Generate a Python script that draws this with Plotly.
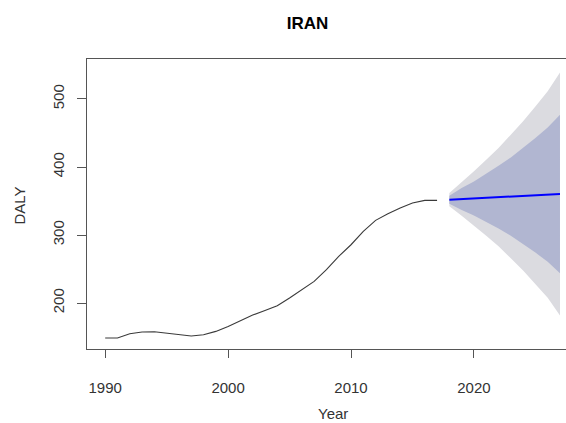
import plotly.graph_objects as go

# Historical series
hist_years = list(range(1990, 2018))
hist_daly = [148.5, 148.5, 154.8, 157.3, 157.8, 155.9, 152.9, 151.5, 153.4, 158.3,
             165.6, 174.0, 182.3, 189.1, 196.0, 207.3, 219.6, 231.8, 249.0, 268.6,
             285.7, 305.3, 321.5, 331.3, 339.7, 347.0, 350.9, 350.9]

# Forecast
fc_years = list(range(2018, 2028))
fc_mean = [352.0, 352.9, 353.8, 354.8, 355.7, 356.6, 357.5, 358.4, 359.4, 360.3]
hi80 = [357.8, 369.1, 378.8, 390.1, 401.9, 414.1, 427.9, 442.6, 458.2, 476.9]
lo80 = [346.1, 336.7, 328.7, 319.5, 309.5, 299.1, 287.1, 274.2, 260.6, 243.7]
hi95 = [361.8, 377.4, 393.6, 410.7, 427.9, 447.5, 467.1, 489.1, 511.2, 539.1]
lo95 = [342.2, 328.4, 313.9, 298.9, 283.5, 265.7, 247.9, 227.7, 207.6, 181.5]

x_ticks = [1990, 2000, 2010, 2020]
y_ticks = [200, 300, 400, 500]

W, H = 566, 423
L, R, T, B = 87, 0, 59, 74
PW, PH = W - L - R, H - T - B


def px_to_paper(px, py):
    return (px - L) / PW, (H - B - py) / PH


fig = go.Figure()
fig.add_trace(go.Scatter(
    x=fc_years + fc_years[::-1], y=hi95 + lo95[::-1],
    fill="toself", fillcolor="#DBDBE0", line=dict(width=0),
    mode="lines", hoverinfo="skip", showlegend=False))
fig.add_trace(go.Scatter(
    x=fc_years + fc_years[::-1], y=hi80 + lo80[::-1],
    fill="toself", fillcolor="#B1B6D1", line=dict(width=0),
    mode="lines", hoverinfo="skip", showlegend=False))
fig.add_trace(go.Scatter(
    x=hist_years, y=hist_daly, mode="lines",
    line=dict(color="#3a3a3a", width=1.1), showlegend=False))
fig.add_trace(go.Scatter(
    x=fc_years, y=fc_mean, mode="lines",
    line=dict(color="#0000FF", width=2), showlegend=False))

font_family = "Liberation Sans, Arial, sans-serif"
yx, yy = px_to_paper(332.5, 414)
dx, dy = px_to_paper(18.5, 206)
fig.update_layout(
    width=W, height=H,
    margin=dict(l=L, r=R, t=T, b=B, autoexpand=False),
    paper_bgcolor="white", plot_bgcolor="white",
    font=dict(family=font_family, color="#333333", size=15),
    title=dict(text="<b>IRAN</b>", x=307.5 / W, xanchor="center",
               y=1 - 23 / H, yanchor="middle",
               font=dict(size=17, color="#000000", family=font_family)),
    xaxis=dict(range=[1988.52, 2027.49], tickvals=x_ticks, automargin=False,
               showgrid=False, zeroline=False,
               showline=True, linecolor="#555555", linewidth=1, mirror=True,
               ticks="outside", ticklen=8, tickcolor="#555555",
               ticklabelstandoff=17, tickfont=dict(size=15)),
    yaxis=dict(range=[132.4, 558.8], tickvals=y_ticks, automargin=False,
               showgrid=False, zeroline=False,
               showline=True, linecolor="#555555", linewidth=1, mirror=False,
               ticks="outside", ticklen=9, tickcolor="#555555",
               tickangle=-90, ticklabelstandoff=7, tickfont=dict(size=15)),
    annotations=[
        dict(text="Year", x=yx, y=yy, xref="paper", yref="paper",
             xanchor="center", yanchor="middle", showarrow=False,
             font=dict(size=15, color="#333333")),
        dict(text="DALY", x=dx, y=dy, xref="paper", yref="paper",
             xanchor="center", yanchor="middle", showarrow=False, textangle=-90,
             font=dict(size=15, color="#333333")),
    ],
)

# Remove the page's default body margin and scrollbars so the figure sits at
# the window's top-left corner at its exact size; hide the mode bar.
fig.write_html(
    "out.html",
    config={"displayModeBar": False},
    post_script="document.body.style.margin='0';"
                "document.body.style.overflow='hidden';",
)
